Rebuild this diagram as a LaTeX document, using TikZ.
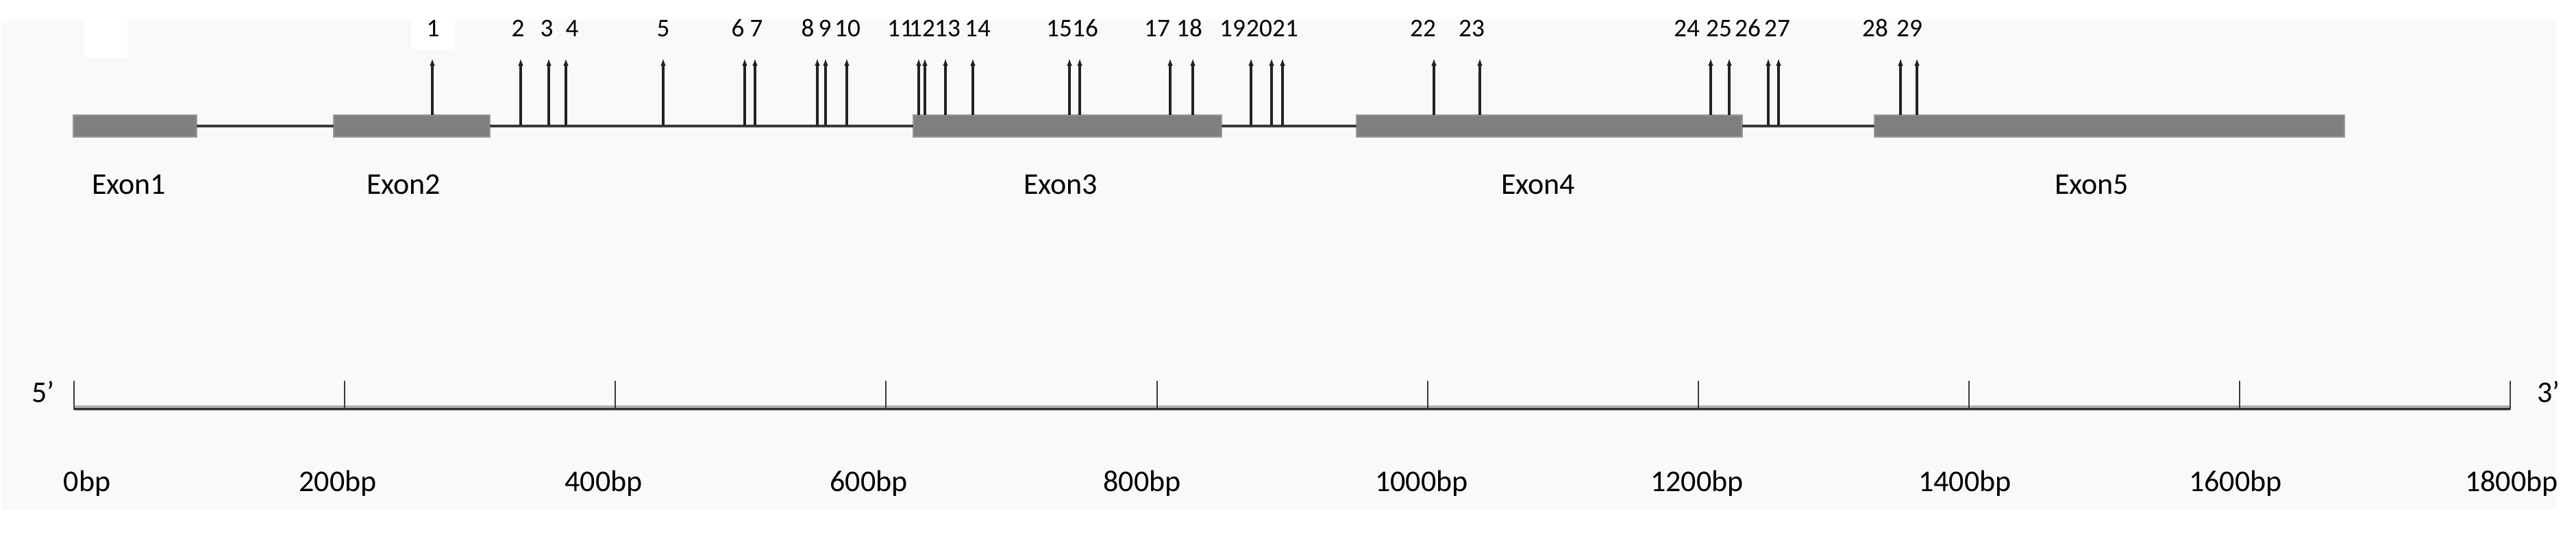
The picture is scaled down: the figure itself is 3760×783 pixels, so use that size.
\documentclass[tikz,border=0pt]{standalone}
\usepackage{fontspec}
\setmainfont{Carlito}
\usetikzlibrary{arrows.meta,fit}
\definecolor{bggray}{HTML}{F9F9F9}
\definecolor{exgray}{HTML}{7F7F7F}
\definecolor{exedge}{HTML}{9A9A9A}
\definecolor{lngray}{HTML}{3A3A3A}
\definecolor{vargray}{HTML}{222222}
\definecolor{axgray}{HTML}{3A3A3A}
\definecolor{axlight}{HTML}{A0A0A0}
\begin{document}
\begin{tikzpicture}[x=0.25pt,y=-0.25pt,
  exonbox/.style={fill=exgray, draw=exedge, line width=0.4pt, inner sep=0pt, outer sep=0pt},
  intron/.style={draw=lngray, line width=1.2pt},
  varline/.style={draw=vargray, line width=0.8pt, -{Latex[length=2.8pt,width=2pt]}},
  numlab/.style={anchor=base, inner sep=0pt, font=\fontsize{9.3}{11}\selectfont},
  exlab/.style={anchor=base, inner sep=0pt, font=\fontsize{11}{13}\selectfont},
  axlab/.style={anchor=base, inner sep=0pt, font=\fontsize{11}{13}\selectfont},
  axisline/.style={draw=axgray, line width=1.2pt},
  axisshade/.style={draw=axlight, line width=0.6pt},
  tickline/.style={draw=axgray, line width=0.7pt}]
\useasboundingbox (0,0) rectangle (3760,783);
% background
\fill[bggray] (2,30) rectangle (3730,744);
\fill[white] (122,29) rectangle (186,84);
\fill[white] (600,29) rectangle (664,72);

% exons
\node[exonbox, fit={(107,168)(287,200)}] (e1) {};
\node[exonbox, fit={(487,168)(715,200)}] (e2) {};
\node[exonbox, fit={(1333,168)(1783,200)}] (e3) {};
\node[exonbox, fit={(1980,168)(2543,200)}] (e4) {};
\node[exonbox, fit={(2736,168)(3422,200)}] (e5) {};

% introns
\draw[intron] (e1.east) -- (e2.west);
\draw[intron] (e2.east) -- (e3.west);
\draw[intron] (e3.east) -- (e4.west);
\draw[intron] (e4.east) -- (e5.west);

% variant lines
\foreach \n/\x/\yb in {1/631/168, 2/760/183, 3/801/183, 4/826/183, 5/968/183,
  6/1087/183, 7/1102/183, 8/1193/183, 9/1205/183, 10/1236/183,
  11/1341/168, 12/1350/168, 13/1380/168, 14/1420/168, 15/1561/168,
  16/1576/168, 17/1708/168, 18/1741/168, 19/1826/183, 20/1856/183,
  21/1872/183, 22/2093/168, 23/2160/168, 24/2497/168, 25/2524/168,
  26/2581/183, 27/2596/183, 28/2774/168, 29/2798/168}{
  \coordinate (vb\n) at (\x,\yb);
  \coordinate (vt\n) at (\x,85);
  \draw[varline] (vb\n) -- (vt\n);
}

% variant labels
\foreach \n/\x in {1/632, 2/756, 3/798, 4/835, 5/968, 6/1077, 7/1104, 8/1179,
  9/1204, 10/1237, 11/1314, 12/1346, 13/1383, 14/1427, 15/1546, 16/1584,
  17/1689, 18/1736, 19/1799, 20/1838, 21/1876, 22/2077, 23/2148, 24/2462,
  25/2509, 26/2551, 27/2594, 28/2737, 29/2787}{
  \node[numlab] (l\n) at (\x,53) {\n};
}

% exon labels
\node[exlab] (x1) at (188,283) {Exon1};
\node[exlab] (x2) at (589,283) {Exon2};
\node[exlab] (x3) at (1548,283) {Exon3};
\node[exlab] (x4) at (2245,283) {Exon4};
\node[exlab] (x5) at (3053,283) {Exon5};

% scale axis
\coordinate (a0) at (108,597);
\coordinate (a9) at (3664,597);
\draw[axisshade] (108,593) -- (3664,593);
\draw[axisline] (a0) -- (a9);
\foreach \i/\x in {0/108, 1/503, 2/898, 3/1293, 4/1689, 5/2084, 6/2479, 7/2874, 8/3269, 9/3664}{
  \coordinate (tb\i) at (\x,598);
  \coordinate (tt\i) at (\x,556);
  \draw[tickline] (tb\i) -- (tt\i);
}
\node[axlab] (p5) at (63,587) {5’};
\node[axlab] (p3) at (3720,587) {3’};

\foreach \i/\x/\t in {0/127/0bp, 1/493/200bp, 2/881/400bp, 3/1268/600bp,
  4/1667/800bp, 5/2075/1000bp, 6/2477/1200bp, 7/2868/1400bp, 8/3263/1600bp,
  9/3666/1800bp}{
  \node[axlab] (b\i) at (\x,717) {\t};
}
\end{tikzpicture}
\end{document}
